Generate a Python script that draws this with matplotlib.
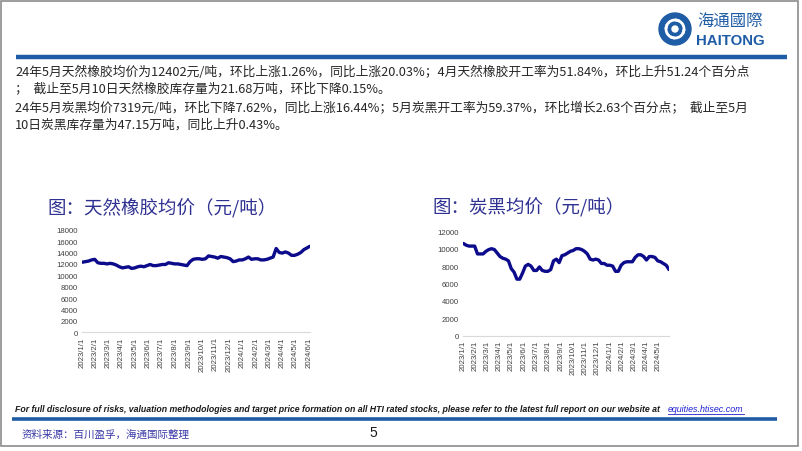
import pandas as pd
import matplotlib
matplotlib.use('Agg')
import matplotlib.pyplot as plt
from matplotlib.patches import Rectangle, Circle, Arc

plt.rcParams['font.family'] = ['Noto Sans CJK SC', 'DejaVu Sans']

# weekly prices (yuan/ton), weeks starting 2023-01-02
rubber_price = [
    12300, 12400, 12500, 12700, 12800,          # 2023 Jan
    12200, 12100, 12100, 12000,                 # Feb
    12100, 12000, 11800, 11500,                 # Mar
    11300, 11400, 11500, 11200,                 # Apr
    11300, 11500, 11600, 11500, 11700,          # May
    11900, 11700, 11700, 11800,                 # Jun
    11900, 11900, 12200, 12100, 12000,          # Jul
    12000, 11900, 11800, 11700,                 # Aug
    12400, 12800, 12900, 12900,                 # Sep
    12800, 12900, 13400, 13300, 13200,          # Oct
    13000, 13300, 13200, 13100,                 # Nov
    12900, 12400, 12500, 12700,                 # Dec
    12700, 12900, 13200, 12800, 12900,          # 2024 Jan
    12900, 12700, 12700, 12800,                 # Feb
    13000, 13200, 14700, 14000,                 # Mar
    13900, 14100, 13900, 13500, 13500,          # Apr
    13700, 14000, 14500, 14800,                 # May
    15100,                                      # Jun
]
cb_price = [
    10600, 10400, 10300, 10300, 10300,          # 2023 Jan
    9400, 9400, 9400, 9700,                     # Feb
    9900, 10000, 9900, 9500,                    # Mar
    9100, 8900, 8800, 8600,                     # Apr
    7700, 7300, 6500, 6500, 7200,               # May
    8000, 8200, 8000, 7500,                     # Jun
    7500, 7900, 7500, 7400, 7400,               # Jul
    7600, 8600, 8800, 8400,                     # Aug
    9200, 9300, 9500, 9700,                     # Sep
    9800, 10000, 10000, 9900, 9700,             # Oct
    9400, 8800, 8700, 8800,                     # Nov
    8700, 8300, 8300, 8100,                     # Dec
    8100, 8000, 7400, 7400, 8100,               # 2024 Jan
    8400, 8500, 8500, 8500,                     # Feb
    9000, 9300, 9300, 9100,                     # Mar
    8700, 9100, 9100, 9000, 8600,               # Apr
    8500, 8300, 8100, 7600,                     # May
]
rubber_dates = pd.date_range('2023-01-02', periods=len(rubber_price), freq='7D')
cb_dates = pd.date_range('2023-01-02', periods=len(cb_price), freq='7D')

body_lines = [
    '24年5月天然橡胶均价为12402元/吨，环比上涨1.26%，同比上涨20.03%；4月天然橡胶开工率为51.84%，环比上升51.24个百分点',
    '；  截止至5月10日天然橡胶库存量为21.68万吨，环比下降0.15%。',
    '24年5月炭黑均价7319元/吨，环比下降7.62%，同比上涨16.44%；5月炭黑开工率为59.37%，环比增长2.63个百分点；  截止至5月',
    '10日炭黑库存量为47.15万吨，同比上升0.43%。',
]
title_rubber = '图：天然橡胶均价（元/吨）'
title_cb = '图：炭黑均价（元/吨）'
disclaimer = ('For full disclosure of risks, valuation methodologies and target price formation '
              'on all HTI rated stocks, please refer to the latest full report on our website at')
link = 'equities.htisec.com'
source = '资料来源：百川盈孚，海通国际整理'

LINE = '#0B0B8C'
BLUE = '#1F5CA6'


def draw_price(ax, dates, values, ymax):
    ax.plot(dates, values, color=LINE, lw=2.4, solid_capstyle='round', solid_joinstyle='round')
    ax.set_ylim(0, ymax)
    ax.set_yticks(range(0, ymax + 1, 2000))
    ax.set_xlim(pd.Timestamp('2023-01-01'), dates[-1])
    months = pd.date_range('2023-01-01', dates[-1], freq='MS')
    ax.set_xticks(months)
    ax.set_xticklabels([f'{d.year}/{d.month}/{d.day}' for d in months], rotation=90)
    for s in ['top', 'right', 'left']:
        ax.spines[s].set_visible(False)
    ax.spines['bottom'].set_color('#D9D9D9')
    ax.tick_params(length=0, labelsize=5.6, labelcolor='#404040', pad=3)
    for lab in ax.get_xticklabels() + ax.get_yticklabels():
        lab.set_family('Liberation Sans')


fig = plt.figure(figsize=(8.02, 4.52), dpi=100)

# page decoration in pixel coordinates
bg = fig.add_axes([0, 0, 1, 1])
bg.set_xlim(0, 802)
bg.set_ylim(452, 0)
bg.axis('off')
bg.add_patch(Rectangle((1, 2), 797, 445, fill=False, ec='#8C8C8C', lw=1.2))
bg.plot([16, 787], [58, 58], color=BLUE, lw=3.2, solid_capstyle='butt')
bg.plot([12, 777], [419.5, 419.5], color=BLUE, lw=2.6, solid_capstyle='butt')

# logo
bg.add_patch(Circle((675, 30), 16, color=BLUE))
for ang in (0, 90, 180, 270):
    bg.add_patch(Arc((675, 30), 18, 18, angle=ang, theta1=0, theta2=120, color='white', lw=2))
bg.add_patch(Circle((675, 30), 3, color='white'))
bg.text(697, 22, '海通國際', fontsize=11.8, color=BLUE, va='center', ha='left')
bg.text(696, 41, 'HAITONG', fontsize=10.8, color=BLUE, va='center', ha='left',
        family='Liberation Sans', weight='bold')

for y, line in zip([72.5, 89.5, 108, 125], body_lines):
    bg.text(15, y, line, fontsize=9.2, color='#262626', va='center', ha='left')

bg.text(47, 208, title_rubber, fontsize=13.3, color='#2E3192', va='center', ha='left')
bg.text(432, 208, title_cb, fontsize=13.3, color='#2E3192', va='center', ha='left')

bg.text(15, 410, disclaimer, fontsize=6.35, color='#1A1A1A', va='center', ha='left',
        family='Liberation Sans', style='italic', weight='bold')
bg.text(668, 410, link, fontsize=6.4, color='#1F1FD0', va='center', ha='left',
        family='Liberation Sans', style='italic')
bg.plot([668, 744], [414.5, 414.5], color='#1F1FD0', lw=0.6)
bg.text(22, 435, source, fontsize=7.6, color='#3A3AA8', va='center', ha='left')
bg.text(373, 433, '5', fontsize=10, color='#1A1A1A', va='center', ha='center',
        family='Liberation Sans')

ax1 = fig.add_axes([82 / 802, 1 - 333.3 / 452, 228 / 802, 102.6 / 452])
draw_price(ax1, rubber_dates, rubber_price, 18000)

ax2 = fig.add_axes([463 / 802, 1 - 336.7 / 452, 206 / 802, 104.4 / 452])
draw_price(ax2, cb_dates, cb_price, 12000)

fig.savefig('out.png', dpi=100)
